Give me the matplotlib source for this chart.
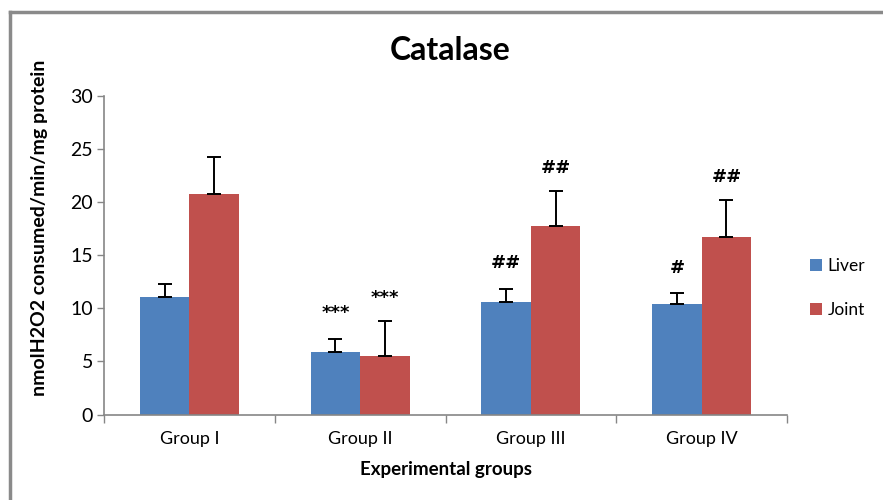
import matplotlib
matplotlib.use("Agg")
import matplotlib.pyplot as plt
import numpy as np
from matplotlib.lines import Line2D

groups = ["Group I", "Group II", "Group III", "Group IV"]
liver = [11.07, 5.9, 10.63, 10.38]
liver_err = [1.23, 1.22, 1.2, 1.02]
joint = [20.76, 5.49, 17.7, 16.75]
joint_err = [3.44, 3.31, 3.3, 3.41]
liver_sig = ["", "***", "##", "#"]
joint_sig = ["", "***", "##", "##"]
yticks = [0, 5, 10, 15, 20, 25, 30]

plt.rcParams['font.family'] = ['Lato', 'DejaVu Sans']

fig = plt.figure(figsize=(8.83, 5.0), dpi=100)
ax = fig.add_axes([104/883, 1-414.5/500, 683/883, (414.5-95.7)/500])

x = np.arange(len(groups))
w = 0.29
blue = "#4F81BD"
red = "#C0504D"
ax.bar(x - w/2, liver, w, color=blue, label="Liver", zorder=2)
ax.bar(x + w/2, joint, w, color=red, label="Joint", zorder=2)
ekw = dict(fmt="none", ecolor="black", elinewidth=1.4, capsize=5, capthick=1.4, zorder=3)
ax.errorbar(x - w/2, liver, yerr=[np.zeros(len(liver)), liver_err], **ekw)
ax.errorbar(x + w/2, joint, yerr=[np.zeros(len(joint)), joint_err], **ekw)

for i in range(len(groups)):
    if liver_sig[i]:
        ax.text(x[i] - w/2, liver[i] + liver_err[i] + 2.4, liver_sig[i], ha="center", va="center",
                fontsize=13, fontweight="bold", family=["DejaVu Sans"])
    if joint_sig[i]:
        ax.text(x[i] + w/2, joint[i] + joint_err[i] + 2.2, joint_sig[i], ha="center", va="center",
                fontsize=13, fontweight="bold", family=["DejaVu Sans"])

ax.set_xlim(-0.5, len(groups) - 0.5)
ax.set_ylim(0, 30)
ax.set_yticks(yticks)
ax.set_xticks(np.arange(-0.5, len(groups)), minor=False)
ax.set_xticklabels([])
ax.set_xticks(x, minor=True)
ax.set_xticklabels(groups, minor=True)
ax.tick_params(axis="x", which="minor", length=0, labelsize=13, pad=12)
ax.tick_params(axis="x", which="major", length=6, color="#868686", width=1)
ax.tick_params(axis="y", length=5, color="#868686", width=1, labelsize=14, pad=3)

for s in ["top", "right"]:
    ax.spines[s].set_visible(False)
for s in ["left", "bottom"]:
    ax.spines[s].set_color("#868686")
    ax.spines[s].set_linewidth(1.2)

fig.text(450/883, 1-50/500, "Catalase", ha="center", va="center", fontsize=23, fontweight="bold")
fig.text(446/883, 1-470/500, "Experimental groups", ha="center", va="center", fontsize=13.5, fontweight="bold")
fig.text(40/883, 1-228/500, "nmolH2O2 consumed/min/mg protein", ha="center", va="center",
         rotation=90, fontsize=14, fontweight="bold")

leg = ax.legend(loc="center left", bbox_to_anchor=(803/883, 1-288/500), bbox_transform=fig.transFigure,
                frameon=False, handlelength=0.7, handleheight=0.7, handletextpad=0.3,
                labelspacing=1.6, fontsize=12.5, borderaxespad=0)

fig.add_artist(Line2D([10/883, 10/883], [0, 1-12/500], transform=fig.transFigure, color="#8a8a8a", lw=2.5))
fig.add_artist(Line2D([10/883, 1], [1-12/500, 1-12/500], transform=fig.transFigure, color="#8a8a8a", lw=2.5))

fig.savefig("out.png", dpi=100)
